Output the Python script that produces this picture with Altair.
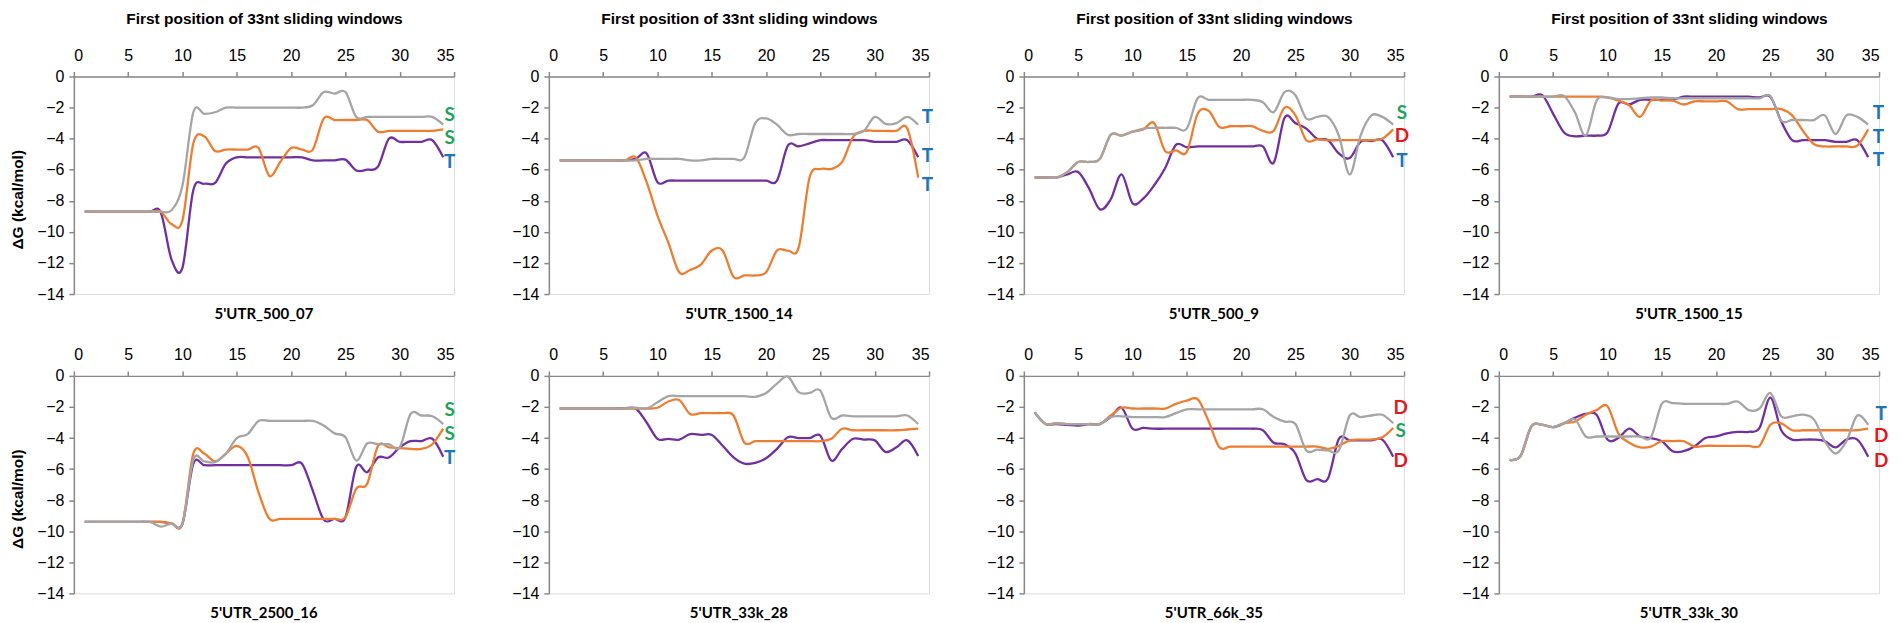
import altair as alt
import pandas as pd

positions = list(range(1, 35))
panel_names = ["5'UTR_500_07", "5'UTR_1500_14", "5'UTR_500_9", "5'UTR_1500_15",
               "5'UTR_2500_16", "5'UTR_33k_28", "5'UTR_66k_35", "5'UTR_33k_30"]

# ---- panel 1 : 5'UTR_500_07
p1_purple = [-8.7]*7 + [-8.75, -11.8, -12.3, -7.3, -6.9, -6.85, -5.6, -5.2] + [-5.2]*6 + \
            [-5.4, -5.4, -5.4, -5.35, -6.05, -6.0, -5.8, -4.0, -4.2, -4.2, -4.2, -4.1, -5.2]
p1_orange = [-8.7]*8 + [-9.5, -9.25, -4.3, -3.85, -4.8, -4.7, -4.7, -4.7, -4.6, -6.4, -5.5, -4.6,
                        -4.7, -4.7, -2.7, -2.8, -2.8, -2.8, -2.8, -3.55, -3.5, -3.5, -3.5, -3.5, -3.5, -3.4]
p1_gray = [-8.7]*8 + [-8.6, -7.0, -2.3, -2.4, -2.3, -2.0] + [-2.0]*7 + \
          [-1.85, -1.0, -1.1, -1.0, -2.6] + [-2.6]*7 + [-3.1]

# ---- panel 2 : 5'UTR_1500_14
p2_purple = [-5.4]*7 + [-5.3, -4.95, -6.8] + [-6.7]*11 + \
            [-4.45, -4.5, -4.3, -4.1, -4.1, -4.1, -4.1, -4.1, -4.2, -4.2, -4.2, -4.1, -5.2]
p2_orange = [-5.4]*7 + [-5.2, -6.8, -8.95, -10.7, -12.6, -12.45, -12.1, -11.2, -11.2, -12.9, -12.8,
                        -12.8, -12.6, -11.2, -11.2, -11.0, -6.5, -5.95, -5.95, -5.5, -3.9, -3.5, -3.5,
                        -3.5, -3.5, -3.35, -6.5]
p2_gray = [-5.4]*8 + [-5.3]*4 + [-5.4, -5.4, -5.3, -5.3, -5.3, -5.2, -3.0, -2.7, -3.1, -3.75] + \
          [-3.7]*6 + [-3.5, -2.6, -3.05, -3.0, -2.6, -3.1]

# ---- panel 3 : 5'UTR_500_9
p3_purple = [-6.5, -6.5, -6.5, -6.3, -6.15, -7.2, -8.55, -7.9, -6.3, -8.15, -7.85, -7.0, -5.9, -4.4,
             -4.55] + [-4.5]*7 + [-5.55, -2.65, -3.0, -3.35, -4.0, -4.1, -4.95, -5.25, -4.2, -4.15,
                                  -4.1, -5.2]
p3_orange = [-6.5, -6.5, -6.5, -6.15, -5.5, -5.5, -5.3, -3.75, -3.8, -3.55, -3.4, -3.0, -4.8, -4.75,
             -4.85, -2.4, -2.2, -3.25, -3.2, -3.2, -3.2, -3.5, -3.5, -2.0, -2.5, -4.1, -4.05, -4.1,
             -4.1, -4.1, -4.1, -4.1, -4.0, -3.4]
p3_gray = [-6.5, -6.5, -6.5, -6.15, -5.5, -5.5, -5.3, -3.75, -3.8, -3.55, -3.35, -3.3, -3.3, -3.3,
           -3.35, -1.4, -1.5, -1.5, -1.5, -1.5, -1.5, -1.65, -2.3, -1.0, -1.2, -2.7, -2.6, -2.6,
           -3.8, -6.3, -3.8, -2.5, -2.6, -3.1]

# ---- panel 4 : 5'UTR_1500_15
p4_purple = [-1.3, -1.3, -1.3, -1.2, -2.4, -3.6, -3.85, -3.8, -3.8, -3.6, -1.75, -1.8, -1.5, -1.5,
             -1.5, -1.5] + [-1.3]*7 + [-1.35, -1.3, -2.9, -4.1, -4.1, -4.1, -4.1, -4.2, -4.2, -4.1,
                                       -5.2]
p4_orange = [-1.3]*9 + [-1.35, -1.55, -1.85, -2.6, -1.55, -1.55, -1.55, -1.8, -1.6, -1.6, -1.6, -1.6,
                        -2.1, -2.1, -2.1, -2.1, -2.1, -2.5, -3.5, -4.35, -4.5, -4.5, -4.5, -4.45, -3.4]
p4_gray = [-1.3]*5 + [-1.25, -2.3, -3.8, -1.55, -1.35, -1.45, -1.45, -1.4, -1.35, -1.35, -1.4] + \
          [-1.4]*8 + [-1.25, -2.85, -2.8, -2.8, -2.8, -2.5, -3.7, -2.5, -2.6, -3.1]

# ---- panel 5 : 5'UTR_2500_16
p5_purple = [-9.4]*8 + [-9.5, -9.5, -5.65] + [-5.75]*9 + \
            [-5.65, -7.4, -9.25, -9.2, -9.1, -5.85, -6.2, -5.25, -5.25, -4.6, -4.2, -4.2, -4.05, -5.2]
p5_orange = [-9.4]*8 + [-9.5, -9.5, -5.0, -5.0, -5.5, -5.0, -4.5, -5.2, -7.5, -9.2] + [-9.2]*6 + \
            [-9.1, -7.25, -6.95, -4.5, -4.6, -4.65, -4.7, -4.7, -4.4, -3.4]
p5_gray = [-9.4]*7 + [-9.7, -9.5, -9.5, -5.4, -5.5, -5.55, -5.0, -4.0, -3.75, -2.9] + [-2.9]*5 + \
          [-3.2, -3.7, -3.95, -5.45, -4.35, -4.4, -4.4, -4.6, -2.45, -2.55, -2.6, -3.1]

# ---- panel 6 : 5'UTR_33k_28
p6_purple = [-2.1]*8 + [-3.0, -4.05, -4.05, -4.1, -3.75, -3.8, -3.8, -4.5, -5.25, -5.65, -5.6, -5.3,
                        -4.7, -3.95, -4.0, -4.0, -3.85, -5.45, -4.7, -4.05, -4.1, -4.15, -4.9, -4.6,
                        -4.15, -5.15]
p6_orange = [-2.1]*8 + [-2.1, -2.05, -1.65, -1.55, -2.45, -2.4, -2.4, -2.4, -2.55, -4.3, -4.2] + \
            [-4.2]*6 + [-4.05, -3.4] + [-3.5]*5 + [-3.45, -3.4]
p6_gray = [-2.1]*7 + [-2.05, -2.1, -1.7, -1.3] + [-1.3]*7 + \
          [-1.35, -1.1, -0.5, -0.05, -1.05, -1.1, -0.95, -2.7, -2.55] + [-2.6]*5 + [-2.55, -3.1]

# ---- panel 7 : 5'UTR_66k_35
p7_purple = [-2.35, -3.1, -3.1, -3.15, -3.2, -3.1, -3.1, -2.65, -2.05, -3.4, -3.35] + [-3.4]*10 + \
            [-3.5, -4.3, -4.4, -5.0, -6.7, -6.65, -6.6, -4.05, -4.15, -4.15, -4.15, -4.1, -5.2]
p7_orange = [-2.35, -3.1, -3.05, -3.1, -3.1, -3.1, -3.1, -2.55, -2.05, -2.1, -2.1, -2.1, -2.1, -1.8,
             -1.6, -1.5, -2.9, -4.6] + [-4.55]*9 + [-4.7, -4.5, -4.15, -4.1, -4.1, -3.95, -3.35]
p7_gray = [-2.35, -3.1, -3.05, -3.1, -3.1, -3.1, -3.1, -2.65, -2.6, -2.65, -2.65, -2.65, -2.65, -2.4,
           -2.15] + [-2.15]*7 + [-2.65, -2.95, -3.1, -4.8, -4.75, -4.8, -4.8, -2.55, -2.65, -2.55,
                                 -2.5, -3.05]

# ---- panel 8 : 5'UTR_33k_30
p8_purple = [-5.4, -5.15, -3.25, -3.15, -3.3, -3.05, -2.7, -2.45, -2.5, -4.1, -4.0, -3.4, -3.9, -4.0,
             -4.2, -4.85, -4.85, -4.55, -4.0, -3.9, -3.7, -3.6, -3.6, -3.35, -1.4, -3.5, -4.1, -4.1,
             -4.1, -4.2, -4.6, -4.1, -4.1, -5.2]
p8_orange = [-5.4, -5.15, -3.25, -3.15, -3.3, -3.05, -2.95, -2.5, -2.2, -1.95, -3.7, -4.3, -4.6,
             -4.55, -4.2, -4.2, -4.2, -4.55] + [-4.5]*6 + [-3.15, -3.05, -3.5] + [-3.5]*6 + [-3.4]
p8_gray = [-5.4, -5.15, -3.25, -3.15, -3.3, -3.05, -2.8, -3.9, -3.9, -3.9, -3.9, -3.9, -3.9, -3.95,
           -1.8, -1.75, -1.8, -1.8, -1.8, -1.8, -1.8, -1.65, -2.2, -2.1, -1.1, -2.6, -2.6, -2.5,
           -2.8, -4.2, -5.0, -4.2, -2.55, -3.15]

purple_series = [p1_purple, p2_purple, p3_purple, p4_purple, p5_purple, p6_purple, p7_purple, p8_purple]
orange_series = [p1_orange, p2_orange, p3_orange, p4_orange, p5_orange, p6_orange, p7_orange, p8_orange]
gray_series = [p1_gray, p2_gray, p3_gray, p4_gray, p5_gray, p6_gray, p7_gray, p8_gray]

# end-of-line letter annotations (x position, letters, y values)
label_x = [34.6, 34.85, 34.8, 34.95, 34.6, 34.8, 34.7, 35.2]
label_text = [["S", "S", "T"], ["T", "T", "T"], ["S", "D", "T"], ["T", "T", "T"],
              ["S", "S", "T"], [], ["D", "S", "D"], ["T", "D", "D"]]
label_y = [[-2.5, -3.95, -5.5], [-2.6, -5.1, -7.0], [-2.35, -3.85, -5.45], [-2.35, -3.9, -5.4],
           [-2.2, -3.75, -5.3], [], [-2.1, -3.55, -5.45], [-2.45, -3.9, -5.5]]
letter_colors = {"S": "#1fa35a", "T": "#1b75bb", "D": "#e3161d"}

series_colors = {"purple": "#7030a0", "orange": "#ed7d31", "gray": "#a5a5a5"}

x_ticks = [0, 5, 10, 15, 20, 25, 30, 35]
y_ticks = [-14, -12, -10, -8, -6, -4, -2, 0]

FONT = "Lato"
W, H = 381, 218


def make_panel(i):
    row = i // 4
    col = i % 4
    xaxis_kwargs = dict(orient="top", values=x_ticks, tickSize=5, labelPadding=8, grid=False,
                        labelFontSize=16, domainWidth=1.5, tickWidth=1.5)
    if row == 0:
        xaxis = alt.Axis(title="First position of 33nt sliding windows", titleFontSize=15.5,
                         titleFontWeight="bold", titlePadding=21, **xaxis_kwargs)
    else:
        xaxis = alt.Axis(title=None, **xaxis_kwargs)
    yaxis_kwargs = dict(values=y_ticks, tickSize=5, labelPadding=5, labelFontSize=16, grid=False,
                        domainWidth=1.5, tickWidth=1.5)
    if col == 0:
        yaxis = alt.Axis(title="ΔG (kcal/mol)", titleFontSize=15.5, titleFontWeight="bold",
                         titlePadding=11, titleY=123, **yaxis_kwargs)
    else:
        yaxis = alt.Axis(title=None, **yaxis_kwargs)

    x_enc = alt.X("pos:Q", scale=alt.Scale(domain=[0, 35], nice=False, zero=False), axis=xaxis)
    y_enc = alt.Y("dG:Q", scale=alt.Scale(domain=[-14, 0], nice=False), axis=yaxis)

    layers = []
    for key, data in (("purple", purple_series[i]), ("orange", orange_series[i]),
                      ("gray", gray_series[i])):
        df = pd.DataFrame({"pos": positions, "dG": data})
        layers.append(
            alt.Chart(df).mark_line(interpolate="cardinal", color=series_colors[key],
                                    strokeWidth=2.3).encode(x=x_enc, y=y_enc)
        )
    if label_text[i]:
        ldf = pd.DataFrame({
            "pos": [label_x[i]] * len(label_text[i]),
            "dG": label_y[i],
            "txt": label_text[i],
            "col": [letter_colors[t] for t in label_text[i]],
        })
        layers.append(
            alt.Chart(ldf).mark_text(font=FONT, fontSize=19, fontWeight="bold",
                                     align="center", baseline="middle").encode(
                x=x_enc, y=y_enc, text="txt:N", color=alt.Color("col:N", scale=None)
            )
        )
    return alt.layer(*layers).properties(
        width=W, height=H,
        title=alt.TitleParams(panel_names[i], orient="bottom", anchor="middle", fontSize=15,
                              fontWeight="bold", font=FONT, color="black", offset=5)
    )


row1 = alt.hconcat(*[make_panel(i) for i in range(4)], spacing=95, bounds="flush")
row2 = alt.hconcat(*[make_panel(i) for i in range(4, 8)], spacing=95, bounds="flush")

chart = alt.vconcat(row1, row2, spacing=23).configure_view(
    strokeWidth=0
).configure_axis(
    grid=False, domainColor="black", tickColor="black", labelColor="black",
    titleColor="black", labelFont=FONT, titleFont=FONT
).configure(background="white", padding={"left": 2, "top": 2, "right": 5, "bottom": 5})

chart.save("out.html", embed_options={"renderer": "svg", "actions": False})
